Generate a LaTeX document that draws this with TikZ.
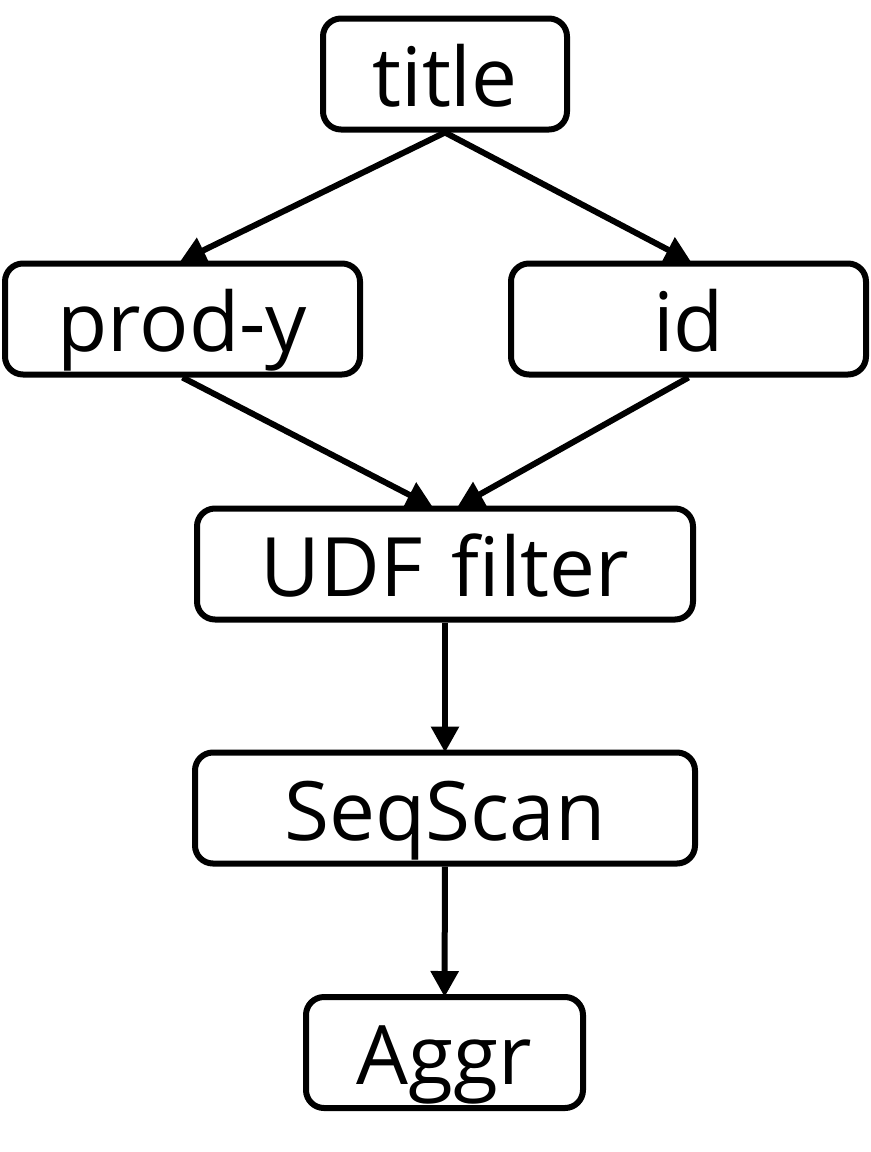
\documentclass[tikz,border=0pt]{standalone}
\usepackage{fontspec}
\setmainfont{Open Sans}
\usetikzlibrary{arrows.meta}

\begin{document}
\begin{tikzpicture}[x=0.5pt,y=-0.5pt,>={Triangle[length=13pt,width=13.5pt]},
  box/.style={draw,line width=3pt,rounded corners=9pt,minimum height=55.5pt,
    text height=32pt,text depth=0pt,inner sep=0pt,font=\fontsize{41}{48}\selectfont},
  flow/.style={->,line width=3pt,shorten >=-1.5pt}]
  \useasboundingbox (0,0) rectangle (871,1152);
  \node[box,minimum width=122pt] (title) at (445,74) {title};
  \node[box,minimum width=177.5pt] (prody) at (182.5,319) {prod-y};
  \node[box,minimum width=177.5pt] (id) at (688.5,319) {id};
  \node[box,minimum width=248pt] (udf) at (445,564) {UDF\hspace{4pt} filter};
  \node[box,minimum width=250pt] (seqscan) at (445,808) {SeqScan};
  \node[box,minimum width=138.5pt] (aggr) at (444.5,1052.5) {Aggr};
  \draw[flow] (title.south) -- (prody.north);
  \draw[flow] (title.south) -- (id.north);
  \draw[flow] (prody.south) -- ([xshift=-7.5pt]udf.north);
  \draw[flow] (id.south) -- ([xshift=7.5pt]udf.north);
  \draw[flow] (udf) -- (seqscan);
  \draw[flow] (seqscan) -- (aggr);
\end{tikzpicture}
\end{document}
